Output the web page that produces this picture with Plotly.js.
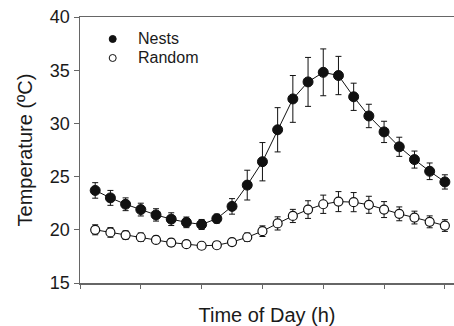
<!DOCTYPE html>
<html>
<head>
<meta charset="utf-8">
<script src="https://cdn.plot.ly/plotly-3.0.1.min.js"></script>
<style>html,body{margin:0;padding:0;background:#fff;}#chart{width:454px;height:326px;}</style>
</head>
<body>
<div id="chart"></div>
<script>
const hours = [1,2,3,4,5,6,7,8,9,10,11,12,13,14,15,16,17,18,19,20,21,22,23,24];
const nestsMean = [23.7,23.0,22.4,21.9,21.4,21.0,20.7,20.5,21.05,22.2,24.2,26.4,29.4,32.3,33.9,34.8,34.5,32.5,30.7,29.2,27.8,26.6,25.5,24.5];
const nestsErr  = [0.73,0.7,0.6,0.6,0.58,0.6,0.5,0.47,0.42,0.73,1.4,1.8,2.08,2.2,2.3,2.2,1.8,1.28,1.1,1.0,0.9,0.8,0.78,0.67];
const randomMean = [20.0,19.75,19.5,19.3,19.05,18.8,18.65,18.5,18.55,18.85,19.3,19.87,20.6,21.3,21.9,22.4,22.65,22.6,22.35,21.9,21.5,21.15,20.75,20.4];
const randomErr  = [0.47,0.45,0.4,0.4,0.35,0.35,0.3,0.3,0.3,0.3,0.4,0.5,0.62,0.62,0.83,0.86,0.94,0.9,0.8,0.75,0.65,0.6,0.56,0.55];
const seriesNames = ["Nests","Random"];
const xTicks = [0,4,8,12,16,20,24];
const yTicks = [15,20,25,30,35,40];

const font = "Liberation Sans, Arial, sans-serif";

const traces = [
  {
    x: hours, y: randomMean, name: seriesNames[1], type: "scatter", mode: "lines+markers",
    line: {color: "#111", width: 1},
    marker: {size: 9, color: "#fff", line: {color: "#111", width: 1.2}},
    error_y: {type: "data", array: randomErr, visible: true, color: "#111", thickness: 1, width: 3},
    showlegend: false
  },
  {
    x: hours, y: nestsMean, name: seriesNames[0], type: "scatter", mode: "lines+markers",
    line: {color: "#111", width: 1},
    marker: {size: 10, color: "#111", line: {color: "#111", width: 1}},
    error_y: {type: "data", array: nestsErr, visible: true, color: "#111", thickness: 1, width: 3},
    showlegend: false
  }
];

const layout = {
  width: 454, height: 326,
  margin: {l: 80, r: 0, t: 17, b: 43},
  paper_bgcolor: "#fff", plot_bgcolor: "#fff",
  font: {family: font, color: "#1a1a1a"},
  showlegend: false,
  xaxis: {
    range: [0, 24.6], tickvals: xTicks, showticklabels: false,
    ticks: "outside", ticklen: 4, tickwidth: 1, tickcolor: "#666",
    showgrid: false, zeroline: false,
    showline: true, linecolor: "#666", linewidth: 1.5, mirror: true,
    title: {text: "Time of Day (h)", font: {size: 20, family: font, color: "#1a1a1a"}, standoff: 20}
  },
  yaxis: {
    range: [15, 40], tickvals: yTicks,
    ticks: "outside", ticklen: 5, tickwidth: 1, tickcolor: "#666",
    tickfont: {size: 18, family: font, color: "#1a1a1a"},
    showgrid: false, zeroline: false,
    showline: true, linecolor: "#666", linewidth: 1.5,
    title: {text: "Temperature (ºC)", font: {size: 20, family: font, color: "#1a1a1a"}, standoff: 12}
  },
  shapes: [
    {type: "circle", xref: "paper", yref: "paper", xsizemode: "pixel", ysizemode: "pixel",
     xanchor: 0.0874, yanchor: 0.9173, x0: -3.5, x1: 3.5, y0: -3.5, y1: 3.5,
     fillcolor: "#111", line: {color: "#111", width: 1}},
    {type: "circle", xref: "paper", yref: "paper", xsizemode: "pixel", ysizemode: "pixel",
     xanchor: 0.0874, yanchor: 0.8459, x0: -3.5, x1: 3.5, y0: -3.5, y1: 3.5,
     fillcolor: "#fff", line: {color: "#111", width: 1}}
  ],
  annotations: [
    {xref: "paper", yref: "paper", x: 0.1516, y: 0.9173, xanchor: "left", yanchor: "middle",
     text: seriesNames[0], showarrow: false, borderpad: 0, font: {size: 16, family: font, color: "#1a1a1a"}},
    {xref: "paper", yref: "paper", x: 0.1516, y: 0.8459, xanchor: "left", yanchor: "middle",
     text: seriesNames[1], showarrow: false, borderpad: 0, font: {size: 16, family: font, color: "#1a1a1a"}}
  ]
};

Plotly.newPlot("chart", traces, layout, {displayModeBar: false, staticPlot: true});
</script>
</body>
</html>
